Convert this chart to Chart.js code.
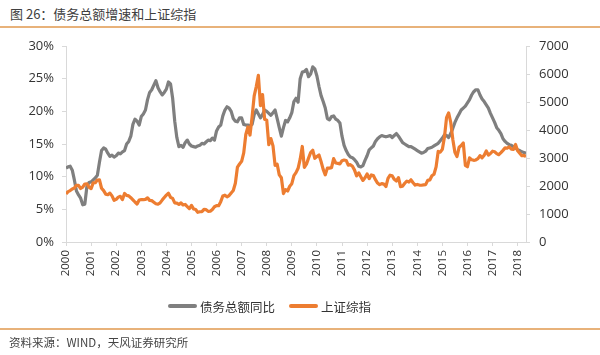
<!DOCTYPE html>
<html>
<head>
<meta charset="utf-8">
<script src="https://cdn.jsdelivr.net/npm/chart.js@4.4.1/dist/chart.umd.min.js"></script>
<style>
html,body{margin:0;padding:0;background:#fff;}
#wrap{position:relative;width:600px;height:355px;overflow:hidden;font-family:"Noto Sans CJK SC","Noto Sans",sans-serif;}
#c{position:absolute;left:0;top:0;}
.title{position:absolute;left:10px;top:5px;font-size:13px;line-height:18px;color:#404040;white-space:nowrap;}
.rule{position:absolute;left:0;width:600px;height:2px;background:#E8B27A;}
.source{position:absolute;left:9px;top:334px;font-size:11.5px;line-height:16px;color:#444;white-space:nowrap;}
#legend{position:absolute;left:168px;top:297px;height:18px;display:flex;align-items:center;font-size:12.5px;color:#333;white-space:nowrap;}
#legend .item{display:flex;align-items:center;margin-right:14px;}
#legend .swatch{width:29px;height:4px;border-radius:2px;margin-right:3px;}
</style>
</head>
<body>
<div id="wrap">
  <div class="title">图 26：债务总额增速和上证综指</div>
  <div class="rule" style="top:26px;"></div>
  <canvas id="c" width="600" height="355"></canvas>
  <div id="legend"></div>
  <div class="rule" style="top:328px;"></div>
  <div class="source">资料来源：WIND，天风证券研究所</div>
</div>
<script>
// Year tick labels (one per January)
const yearLabels = ["2000","2001","2002","2003","2004","2005","2006","2007","2008","2009","2010","2011","2012","2013","2014","2015","2016","2017","2018"];

// Series names
const seriesNames = ["债务总额同比", "上证综指"];

// 债务总额同比 (%), monthly from 2000-01
const debtYoY = [
  11.3,11.5,11.6,11.0,9.5,7.8,7.2,6.7,5.7,5.8,8.5,9.1,
  9.2,9.5,9.8,10.2,12.2,14.0,14.4,14.2,13.6,13.1,13.3,13.0,
  13.2,13.6,13.5,13.8,14.0,15.0,15.4,16.2,18.0,18.8,18.5,17.9,
  19.2,19.6,20.2,21.8,22.9,23.3,24.0,24.7,23.6,23.0,22.5,22.9,
  23.4,24.5,24.2,22.0,18.5,16.0,14.6,14.8,14.5,15.2,15.6,15.0,
  14.7,14.6,14.5,14.7,14.8,15.1,15.0,15.3,15.6,15.5,15.9,15.6,
  17.0,17.6,17.9,19.3,20.2,20.7,20.5,20.0,18.9,18.5,18.4,19.0,
  19.0,18.0,17.9,17.9,17.8,18.0,19.5,20.2,19.6,19.0,19.5,20.2,
  20.0,19.7,19.4,19.8,20.2,18.9,17.5,16.2,17.5,18.6,18.4,19.0,
  19.8,21.5,22.0,21.4,25.0,26.0,26.1,26.4,25.3,25.7,26.8,26.5,
  25.4,23.8,22.4,21.5,20.5,18.9,18.7,19.2,19.3,18.8,18.6,18.2,
  16.2,14.8,14.0,13.4,13.0,12.9,12.6,12.2,11.6,11.5,11.7,12.5,
  13.2,14.1,14.4,14.7,15.4,15.8,16.1,16.3,16.2,16.1,16.2,16.3,
  16.0,16.3,16.6,16.2,15.7,15.2,15.0,14.8,14.6,14.6,14.4,14.2,
  14.0,13.8,13.6,13.7,13.9,14.3,14.4,14.5,14.7,14.9,15.1,15.5,
  15.9,16.4,16.3,16.0,16.6,17.4,18.3,19.0,19.6,20.2,20.5,20.8,
  21.3,21.8,22.5,23.0,23.3,23.3,22.5,21.9,21.5,21.0,20.5,19.7,
  19.0,18.3,17.5,17.1,16.6,15.8,15.4,15.1,14.9,14.8,14.6,14.4,
  14.1,14.0,13.8,13.7,13.6
];

// 上证综指 (points), monthly
const sseIndex = [
  1715,1800,1836,1895,1928,2023,2022,1910,1961,2071,2074,
  1957,1907,2112,2119,2214,2218,1920,1834,1710,1690,1747,1646,
  1490,1525,1603,1633,1515,1733,1665,1649,1582,1508,1429,1358,
  1500,1512,1510,1521,1576,1487,1477,1422,1367,1348,1397,1497,
  1591,1675,1742,1596,1556,1399,1386,1342,1397,1321,1341,1267,
  1192,1306,1181,1159,1061,1081,1083,1163,1156,1093,1099,1161,
  1258,1299,1298,1440,1641,1672,1613,1659,1752,1838,2099,2676,
  2786,2881,3184,3841,4110,3821,4471,5219,5552,5955,4872,5262,
  4383,4349,3473,3693,3433,2736,2776,2397,2294,1729,1871,1821,
  1991,2083,2373,2478,2633,2959,3412,2668,2779,2996,3195,3277,
  2989,3052,3109,2871,2592,2398,2638,2639,2656,2979,2820,2808,
  2791,2905,2928,2912,2744,2762,2702,2567,2359,2468,2333,2199,
  2293,2429,2263,2396,2372,2225,2104,2048,2086,2069,1980,2269,
  2385,2366,2237,2178,2301,1979,1994,2098,2175,2142,2221,2116,
  2033,2056,2033,2026,2039,2048,2202,2217,2364,2420,2683,3235,
  3210,3310,3748,4442,4612,4277,3664,3206,3053,3383,3445,3539,
  2738,2688,3004,2938,2917,2930,2979,3086,3005,3100,3250,3104,
  3159,3242,3223,3155,3117,3192,3273,3361,3349,3393,3317,3307,
  3481,3259,3169,3082,3095,3050
];

const colors = ["#7F7F7F", "#ED7D31"];
const tickFont = {family: "'Open Sans','Noto Sans',sans-serif", size: 13};
const axisColor = "#D9D9D9";

const toXY = arr => arr.map((v, i) => ({x: i, y: v}));
const lastIndex = debtYoY.length - 1;

const chart = new Chart(document.getElementById('c'), {
  type: 'line',
  data: {
    datasets: [
      {label: seriesNames[0], data: toXY(debtYoY), yAxisID: 'y', borderColor: colors[0], backgroundColor: colors[0], borderWidth: 3.2, pointRadius: 0, tension: 0, order: 2, borderJoinStyle: 'round'},
      {label: seriesNames[1], data: toXY(sseIndex), yAxisID: 'y2', borderColor: colors[1], backgroundColor: colors[1], borderWidth: 3.2, pointRadius: 0, tension: 0, order: 1, borderJoinStyle: 'round'}
    ]
  },
  options: {
    responsive: false,
    animation: false,
    layout: {padding: {top: 46, left: 0, right: 0, bottom: 0}},
    plugins: {legend: {display: false}, tooltip: {enabled: false}, title: {display: false}},
    scales: {
      x: {
        type: 'linear', min: 0, max: lastIndex,
        afterBuildTicks: s => { s.ticks = yearLabels.map((y, k) => ({value: k * 12})); },
        afterFit: s => { s.height = 113; },
        ticks: {
          callback: (v) => yearLabels[Math.round(v / 12)],
          minRotation: 90, maxRotation: 90, autoSkip: false,
          font: {family: "'Open Sans','Noto Sans',sans-serif", size: 11.5}, color: '#333', padding: 4
        },
        grid: {drawOnChartArea: false, drawTicks: true, tickLength: 4, color: axisColor},
        border: {display: true, color: axisColor}
      },
      y: {
        position: 'left', min: 0, max: 30,
        afterFit: s => { s.width = 66; },
        ticks: {stepSize: 5, callback: v => v + '%', font: tickFont, color: '#333', padding: 8},
        grid: {drawOnChartArea: false, drawTicks: true, tickLength: 4, color: axisColor},
        border: {display: true, color: axisColor}
      },
      y2: {
        position: 'right', min: 0, max: 7000,
        afterFit: s => { s.width = 74; },
        ticks: {stepSize: 1000, callback: v => String(v), font: tickFont, color: '#333', padding: 9},
        grid: {drawOnChartArea: false, drawTicks: true, tickLength: 4, color: axisColor},
        border: {display: true, color: axisColor}
      }
    }
  }
});

// HTML legend built from chart datasets
const legendEl = document.getElementById('legend');
chart.data.datasets.forEach(ds => {
  const item = document.createElement('div');
  item.className = 'item';
  const sw = document.createElement('span');
  sw.className = 'swatch';
  sw.style.background = ds.borderColor;
  const tx = document.createElement('span');
  tx.textContent = ds.label;
  item.appendChild(sw);
  item.appendChild(tx);
  legendEl.appendChild(item);
});
</script>
</body>
</html>
